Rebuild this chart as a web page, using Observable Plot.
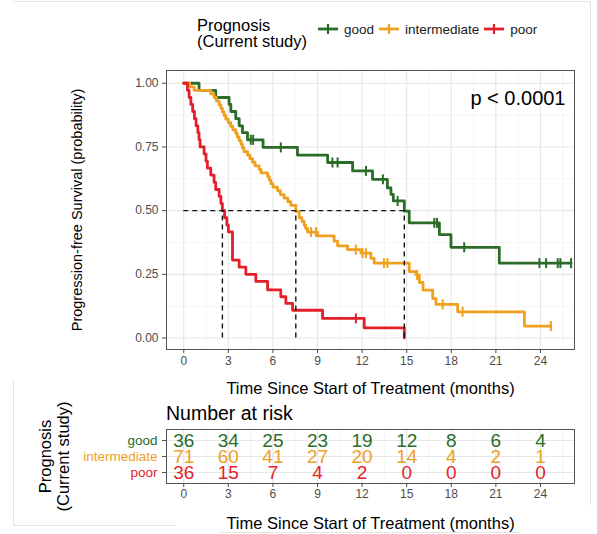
<!DOCTYPE html>
<html><head><meta charset="utf-8">
<script src="https://cdn.jsdelivr.net/npm/d3@7"></script>
<script src="https://cdn.jsdelivr.net/npm/@observablehq/plot@0.6"></script>
<style>
body{margin:0;background:#fff;font-family:"Liberation Sans",Arial,Helvetica,sans-serif;}
#root{position:relative;width:597px;height:534px;overflow:hidden;background:#fff;}
.abs{position:absolute;}
.edge{position:absolute;background:#e4e4e4;}
#legend{display:flex;align-items:center;font-size:13.5px;color:#1a1a1a;}
#legend span{margin-left:6px;margin-right:5px;}
</style></head><body><div id="root">
<div class="edge" style="left:13px;top:1px;width:577px;height:1px"></div>
<div class="edge" style="left:590px;top:1px;width:1px;height:504px"></div>
<div class="edge" style="left:13px;top:380px;width:1px;height:145px"></div>
<div class="edge" style="left:13px;top:525px;width:162px;height:1px"></div>
<div class="edge" style="left:220px;top:532px;width:300px;height:1px"></div>
<div class="abs" style="left:197px;top:18px;font-size:16.5px;line-height:15.5px;color:#000">Prognosis<br>(Current study)</div>
<div id="legend" class="abs" style="left:318px;top:21px;height:16px"></div>
<div id="main" class="abs" style="left:0;top:58px"></div>
<div class="abs" style="left:166px;top:402px;font-size:19.5px;line-height:22px;color:#000">Number at risk</div>
<div id="table" class="abs" style="left:0;top:424px"></div>
</div>
<script>
// ---- data ----
const groups = ["good", "intermediate", "poor"];
const groupColors = ["#2b6c28", "#efa01f", "#e31f29"];

const goodTime = [0, 1.03, 2.15, 3.05, 3.17, 3.5, 3.73, 3.95, 4.29, 5.34, 7.65, 9.68, 11.36, 12.7, 13.7, 13.94, 14.1, 14.84, 15.17, 17.2, 17.98, 21.23, 26.06];
const goodSurv = [1, 0.972, 0.944, 0.917, 0.889, 0.861, 0.833, 0.806, 0.778, 0.748, 0.718, 0.689, 0.656, 0.623, 0.589, 0.564, 0.538, 0.498, 0.452, 0.406, 0.356, 0.294, 0.294];
const goodCensor = [4.51, 4.67, 6.53, 10.0, 10.35, 12.26, 13.4, 14.39, 16.86, 17.04, 18.87, 23.93, 24.38, 25.16, 25.34, 26.06];

const intermediateTime = [0, 0.4, 0.7, 1.82, 2.04, 2.2, 2.38, 2.5, 2.6, 2.72, 2.83, 3.0, 3.16, 3.3, 3.5, 3.6, 3.73, 3.85, 3.95, 4.05, 4.29, 4.45, 4.63, 4.8, 5.07, 5.2, 5.64, 5.75, 5.86, 6.0, 6.31, 6.5, 6.75, 7.0, 7.2, 7.54, 7.77, 7.95, 8.1, 8.2, 8.33, 9.0, 10.12, 10.35, 11.02, 11.92, 12.59, 12.81, 15.17, 15.62, 15.85, 16.1, 16.75, 16.97, 18.43, 22.92, 24.7];
const intermediateSurv = [1, 0.986, 0.972, 0.958, 0.944, 0.93, 0.915, 0.901, 0.887, 0.873, 0.859, 0.845, 0.831, 0.817, 0.803, 0.789, 0.775, 0.761, 0.746, 0.732, 0.718, 0.704, 0.69, 0.676, 0.662, 0.648, 0.634, 0.62, 0.606, 0.592, 0.578, 0.563, 0.549, 0.535, 0.521, 0.496, 0.472, 0.458, 0.443, 0.43, 0.416, 0.401, 0.38, 0.362, 0.347, 0.333, 0.313, 0.294, 0.261, 0.248, 0.218, 0.188, 0.155, 0.132, 0.103, 0.047, 0.047];
const intermediateCensor = [8.56, 8.9, 11.58, 12.03, 12.26, 13.47, 13.7, 15.7, 17.42, 18.76, 24.7];

const poorTime = [0, 0.25, 0.36, 0.48, 0.6, 0.72, 0.83, 0.95, 1.03, 1.1, 1.37, 1.5, 1.59, 1.82, 2.04, 2.15, 2.38, 2.5, 2.6, 2.75, 2.9, 3.0, 3.28, 3.73, 4.18, 4.85, 5.64, 6.53, 6.87, 7.32, 9.34, 12.14, 14.84];
const poorSurv = [1, 0.972, 0.944, 0.917, 0.889, 0.861, 0.833, 0.806, 0.778, 0.75, 0.722, 0.694, 0.667, 0.639, 0.611, 0.583, 0.556, 0.528, 0.5, 0.472, 0.444, 0.417, 0.306, 0.278, 0.25, 0.222, 0.189, 0.162, 0.136, 0.109, 0.077, 0.04, 0];
const poorCensor = [11.58];

const riskTimes = [0, 3, 6, 9, 12, 15, 18, 21, 24];
const riskGood = [36, 34, 25, 23, 19, 12, 8, 6, 4];
const riskIntermediate = [71, 60, 41, 27, 20, 14, 4, 2, 1];
const riskPoor = [36, 15, 7, 4, 2, 0, 0, 0, 0];

const xTicks = [0, 3, 6, 9, 12, 15, 18, 21, 24];
const xMinor = [1.5, 4.5, 7.5, 10.5, 13.5, 16.5, 19.5, 22.5, 25.5];
const yTicks = [0, 0.25, 0.5, 0.75, 1];
const yMinor = [0.125, 0.375, 0.625, 0.875];
const yTitle = "Progression-free Survival (probability)";
const xTitle = "Time Since Start of Treatment (months)";
const pText = "p < 0.0001";
const legendTitle = "Prognosis\n(Current study)";

// ---- build tables ----
const series = {
  good: [goodTime, goodSurv, goodCensor],
  intermediate: [intermediateTime, intermediateSurv, intermediateCensor],
  poor: [poorTime, poorSurv, poorCensor]
};
const curves = [], censors = [], medians = [];
for (const g of groups) {
  const [T, S, C] = series[g];
  T.forEach((t, i) => curves.push({group: g, t, s: S[i]}));
  C.forEach(t => {
    const i = d3.bisectRight(T, t) - 1;
    censors.push({group: g, t, s: S[Math.max(0, i)]});
  });
  const mi = S.findIndex(s => s <= 0.5);
  if (mi >= 0) medians.push({group: g, t: T[mi]});
}
const riskRows = [];
const riskBy = {good: riskGood, intermediate: riskIntermediate, poor: riskPoor};
for (const g of groups) riskTimes.forEach((t, i) => riskRows.push({group: g, t, n: riskBy[g][i]}));

const FONT = '"Liberation Sans", Arial, Helvetica, sans-serif';
const xDomain = [-1.16, 26.29];
const tickSymbol = {draw(ctx, size) { const r = Math.sqrt(size / Math.PI); ctx.moveTo(0, -r); ctx.lineTo(0, r); }};

// ---- legend ----
const legend = document.getElementById("legend");
groups.forEach((g, i) => {
  const c = groupColors[i];
  legend.insertAdjacentHTML("beforeend",
    `<svg width="20" height="12" style="display:block"><line x1="0" x2="20" y1="6" y2="6" stroke="${c}" stroke-width="2.8"/><line x1="10" x2="10" y1="1" y2="11" stroke="${c}" stroke-width="2.2"/></svg><span>${g}</span>`);
});

// ---- main KM plot ----
const main = Plot.plot({
  width: 597, height: 345,
  marginLeft: 166, marginRight: 23, marginTop: 12, marginBottom: 54,
  style: {fontFamily: FONT, fontSize: "12px", background: "transparent", overflow: "visible"},
  x: {domain: xDomain},
  y: {domain: [-0.045, 1.05]},
  color: {domain: groups, range: groupColors},
  marks: [
    Plot.gridX({ticks: xMinor, stroke: "#f2f2f2", strokeOpacity: 1, strokeWidth: 0.8}),
    Plot.gridY({ticks: yMinor, stroke: "#f2f2f2", strokeOpacity: 1, strokeWidth: 0.8}),
    Plot.gridX({ticks: xTicks, stroke: "#e6e6e6", strokeOpacity: 1, strokeWidth: 1.1}),
    Plot.gridY({ticks: yTicks, stroke: "#e6e6e6", strokeOpacity: 1, strokeWidth: 1.1}),
    Plot.line(curves, {x: "t", y: "s", z: "group", stroke: "group", curve: "step-after", strokeWidth: 2.8}),
    Plot.dot(censors, {x: "t", y: "s", stroke: "group", fill: "none", symbol: tickSymbol, r: 5, strokeWidth: 2}),
    Plot.ruleY([0.5], {x1: 0, x2: d3.max(medians, d => d.t), stroke: "#111", strokeDasharray: "5,4", strokeWidth: 1.4}),
    Plot.ruleX(medians, {x: "t", y1: 0, y2: 0.5, stroke: "#111", strokeDasharray: "5,4", strokeWidth: 1.4}),
    Plot.frame({stroke: "#555", strokeWidth: 1}),
    Plot.axisX({ticks: xTicks, tickSize: 4, tickPadding: 3, fontSize: 12, color: "#4d4d4d", label: null}),
    Plot.axisY({ticks: yTicks, tickFormat: d3.format(".2f"), tickSize: 4, tickPadding: 4, fontSize: 12, color: "#4d4d4d", label: null}),
    Plot.text([yTitle], {frameAnchor: "left", dx: -89, rotate: -90, textAnchor: "middle", lineAnchor: "middle", fontSize: 14.5, fill: "#000"}),
    Plot.text([xTitle], {frameAnchor: "bottom", dy: 39, lineAnchor: "middle", fontSize: 16.5, fill: "#000"}),
    Plot.text([pText], {frameAnchor: "top-right", dx: -9, dy: 28, textAnchor: "end", lineAnchor: "middle", fontSize: 20, fill: "#000"})
  ]
});
document.getElementById("main").append(main);

// ---- risk table ----
const table = Plot.plot({
  width: 597, height: 110,
  marginLeft: 166, marginRight: 23, marginTop: 5, marginBottom: 51,
  style: {fontFamily: FONT, fontSize: "12px", background: "transparent", overflow: "visible"},
  x: {domain: xDomain},
  y: {type: "point", domain: groups, padding: 0.6},
  color: {domain: groups, range: groupColors},
  marks: [
    Plot.gridX({ticks: xMinor, stroke: "#f2f2f2", strokeOpacity: 1, strokeWidth: 0.8}),
    Plot.gridX({ticks: xTicks, stroke: "#e6e6e6", strokeOpacity: 1, strokeWidth: 1.1}),
    Plot.gridY({stroke: "#e6e6e6", strokeOpacity: 1, strokeWidth: 1.1}),
    Plot.text(riskRows, {x: "t", y: "group", text: d => String(d.n), fill: "group", fontSize: 19}),
    Plot.frame({stroke: "#555", strokeWidth: 1}),
    Plot.axisX({ticks: xTicks, tickSize: 4, tickPadding: 2, fontSize: 12, color: "#4d4d4d", label: null}),
    Plot.axisY({tickSize: 4, tickFormat: () => "", color: "#4d4d4d", label: null}),
    Plot.text(groups, {y: d => d, text: d => d, fill: d => d, frameAnchor: "left", textAnchor: "end", dx: -9, fontSize: 13.5}),
    Plot.text([legendTitle], {frameAnchor: "left", dx: -112, rotate: -90, textAnchor: "middle", lineAnchor: "middle", fontSize: 16.5, lineHeight: 1.1, fill: "#000"}),
    Plot.text([xTitle], {frameAnchor: "bottom", dy: 40, lineAnchor: "middle", fontSize: 16.5, fill: "#000"})
  ]
});
document.getElementById("table").append(table);
</script>
</body></html>
